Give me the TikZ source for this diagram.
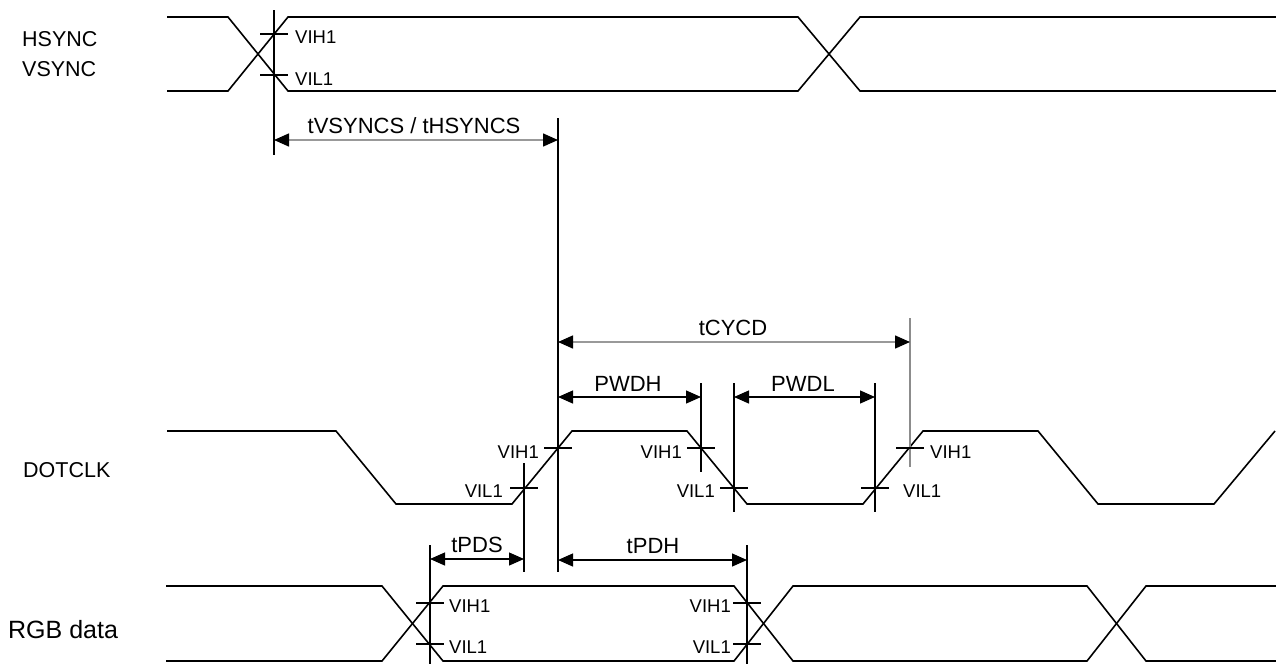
\documentclass[tikz,border=0pt]{standalone}
\usepackage{fontspec}
\setmainfont{Liberation Sans}
\usetikzlibrary{arrows.meta}
\begin{document}
\begin{tikzpicture}[x=1pt,y=-1pt,
  >={Triangle[length=15pt,width=13pt,color=black]},
  wave/.style={line width=1.6pt, line join=miter},
  guide/.style={line width=1.3pt},
  grayguide/.style={line width=1.3pt, draw=black!45},
  dimline/.style={line width=1.3pt, <->},
  graydim/.style={line width=1.5pt, <->, draw=black!40},
  tickline/.style={line width=1.3pt},
  lbl/.style={font=\fontsize{22}{24}\selectfont, inner sep=0pt, anchor=base},
  sig/.style={font=\fontsize{21.5}{24}\selectfont, inner sep=0pt, anchor=west},
  lvl/.style={font=\fontsize{18.5}{20}\selectfont, inner sep=0pt},
]
\useasboundingbox (0,0) rectangle (1276,664);

% signal names
\node[sig] (hs) at (22,39) {HSYNC};
\node[sig] (vs) at (22,69) {VSYNC};
\node[sig] (dc) at (23,470) {DOTCLK};
\node[sig, font=\fontsize{25}{28}\selectfont] (rgb) at (8,630) {RGB data};

% HSYNC / VSYNC waveform
\draw[wave] (167,17) -- (228,17) -- (288,91) -- (798,91) -- (860,17) -- (1276,17);
\draw[wave] (167,91) -- (228,91) -- (288,17) -- (798,17) -- (860,91) -- (1276,91);

% DOTCLK waveform
\draw[wave] (167,431) -- (336,431) -- (396,504) -- (512,504) -- (572,431) -- (687,431)
  -- (747,504) -- (863,504) -- (923,431) -- (1038,431) -- (1098,504) -- (1214,504) -- (1275,431);

% RGB data waveform
\draw[wave] (166,586) -- (382,586) -- (443,661) -- (734,661) -- (793,586) -- (1087,586) -- (1146,661) -- (1276,661);
\draw[wave] (166,661) -- (382,661) -- (443,586) -- (734,586) -- (793,661) -- (1087,661) -- (1146,586) -- (1276,586);

% guide line end points
\coordinate (g1t) at (274,10);   \coordinate (g1b) at (274,155);
\coordinate (g2t) at (558,118);  \coordinate (g2b) at (558,572);
\coordinate (g3t) at (910,318);  \coordinate (g3b) at (910,467);
\coordinate (g4t) at (701,383);  \coordinate (g4b) at (701,472);
\coordinate (g5t) at (734,383);  \coordinate (g5b) at (734,512);
\coordinate (g6t) at (875,383);  \coordinate (g6b) at (875,512);
\coordinate (g7t) at (524,463);  \coordinate (g7b) at (524,572);
\coordinate (g8t) at (430,545);  \coordinate (g8b) at (430,664);
\coordinate (g9t) at (747,545);  \coordinate (g9b) at (747,664);

\draw[guide] (g1t) -- (g1b);
\draw[guide] (g2t) -- (g2b);
\draw[grayguide] (g3t) -- (g3b);
\draw[guide] (g4t) -- (g4b);
\draw[guide] (g5t) -- (g5b);
\draw[guide] (g6t) -- (g6b);
\draw[guide] (g7t) -- (g7b);
\draw[guide] (g8t) -- (g8b);
\draw[guide] (g9t) -- (g9b);

% dimension arrows
\coordinate (a1l) at (274,140); \coordinate (a1r) at (558,140);
\coordinate (a2l) at (558,342); \coordinate (a2r) at (910,342);
\coordinate (a3l) at (558,397); \coordinate (a3r) at (701,397);
\coordinate (a4l) at (734,397); \coordinate (a4r) at (875,397);
\coordinate (a5l) at (430,559); \coordinate (a5r) at (524,559);
\coordinate (a6l) at (558,560); \coordinate (a6r) at (747,560);

\draw[graydim] (a1l) -- (a1r);
\draw[graydim] (a2l) -- (a2r);
\draw[dimline] (a3l) -- (a3r);
\draw[dimline] (a4l) -- (a4r);
\draw[dimline] (a5l) -- (a5r);
\draw[dimline] (a6l) -- (a6r);

\node[lbl] (tvs) at (414,133) {tVSYNCS / tHSYNCS};
\node[lbl] (tcy) at (733,335) {tCYCD};
\node[lbl] (pwh) at (628,391) {PWDH};
\node[lbl] (pwl) at (803,391) {PWDL};
\node[lbl] (tps) at (477,552) {tPDS};
\node[lbl] (tph) at (653,553) {tPDH};

% threshold crossing points and ticks
\coordinate (h1) at (274,34);
\coordinate (l1) at (274,75);
\coordinate (h2) at (558,448);
\coordinate (l2) at (524,488);
\coordinate (h3) at (701,448);
\coordinate (l3) at (734,488);
\coordinate (l4) at (875,488);
\coordinate (h4) at (910,448);
\coordinate (h5) at (430,603);
\coordinate (l5) at (430,644);
\coordinate (h6) at (747,603);
\coordinate (l6) at (747,644);

\foreach \p in {h1,l1,h2,l2,h3,l3,l4,h4,h5,l5,h6,l6}
  \draw[tickline] ([xshift=-14pt]\p) -- ([xshift=14pt]\p);

% level labels
\node[lvl, anchor=base west] (th1) at (295,43) {VIH1};
\node[lvl, anchor=base west] (tl1) at (295,85) {VIL1};
\node[lvl, anchor=base east] (th2) at (539,458) {VIH1};
\node[lvl, anchor=base east] (tl2) at (503,497) {VIL1};
\node[lvl, anchor=base east] (th3) at (682,458) {VIH1};
\node[lvl, anchor=base east] (tl3) at (715,497) {VIL1};
\node[lvl, anchor=base west] (tl4) at (903,497) {VIL1};
\node[lvl, anchor=base west] (th4) at (930,458) {VIH1};
\node[lvl, anchor=base west] (th5) at (449,612) {VIH1};
\node[lvl, anchor=base west] (tl5) at (449,653) {VIL1};
\node[lvl, anchor=base east] (th6) at (731,612) {VIH1};
\node[lvl, anchor=base east] (tl6) at (731,653) {VIL1};
\end{tikzpicture}
\end{document}
